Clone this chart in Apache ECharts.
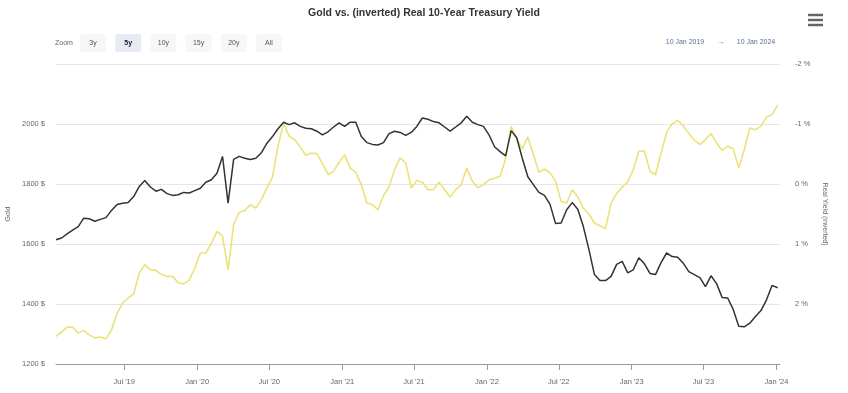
<!DOCTYPE html>
<html>
<head>
<meta charset="utf-8">
<script src="https://cdn.jsdelivr.net/npm/echarts@6/dist/echarts.min.js"></script>
<style>
html,body{margin:0;padding:0;background:#fff;}
#chart{width:848px;height:393px;}
</style>
</head>
<body>
<div id="chart"></div>
<script>
// ---- data (biweekly samples starting 10 Jan 2019) ----
const startDate = '2019-01-10';
const stepDays = 14;
const goldValues = [
1292,1306,1323,1323,1303,1312,1297,1287,1290,1283,
1314,1368,1403,1420,1434,1503,1531,1514,1512,1498,
1492,1492,1472,1467,1479,1520,1570,1570,1603,1642,
1626,1514,1664,1706,1712,1731,1720,1748,1787,1823,
1926,2003,1959,1948,1923,1896,1903,1901,1868,1831,
1842,1872,1898,1853,1839,1798,1737,1731,1714,1761,
1790,1848,1887,1870,1787,1812,1806,1781,1781,1806,
1781,1757,1781,1798,1853,1809,1787,1798,1814,1819,
1826,1883,1992,1950,1917,1957,1898,1839,1850,1837,
1809,1742,1737,1781,1757,1720,1700,1670,1661,1651,
1737,1768,1789,1808,1848,1909,1911,1842,1831,1903,
1972,2000,2012,1994,1968,1946,1931,1948,1968,1937,
1912,1926,1917,1853,1914,1987,1981,1992,2023,2031,
2064
];
const yieldValues = [
0.93,0.90,0.83,0.77,0.71,0.57,0.58,0.62,0.59,0.56,
0.44,0.34,0.32,0.31,0.21,0.04,-0.06,0.05,0.12,0.09,
0.16,0.19,0.18,0.14,0.15,0.11,0.07,-0.03,-0.07,-0.18,
-0.46,0.32,-0.41,-0.46,-0.43,-0.41,-0.43,-0.52,-0.68,-0.79,
-0.92,-1.03,-0.99,-1.02,-0.96,-0.93,-0.92,-0.88,-0.82,-0.87,
-0.95,-1.02,-0.96,-1.03,-1.03,-0.79,-0.69,-0.66,-0.65,-0.69,
-0.84,-0.88,-0.86,-0.81,-0.86,-0.96,-1.10,-1.08,-1.04,-1.02,
-0.95,-0.88,-0.95,-1.02,-1.13,-1.03,-0.99,-0.96,-0.82,-0.62,
-0.54,-0.47,-0.89,-0.77,-0.43,-0.12,0.01,0.14,0.19,0.34,
0.66,0.65,0.43,0.31,0.42,0.71,1.09,1.51,1.61,1.61,
1.54,1.34,1.29,1.48,1.43,1.23,1.33,1.49,1.51,1.31,
1.15,1.21,1.22,1.32,1.46,1.51,1.56,1.71,1.53,1.66,
1.89,1.90,2.09,2.37,2.38,2.32,2.21,2.11,1.93,1.69,
1.73
];
const tickDates = ['2019-07-01','2020-01-01','2020-07-01','2021-01-01','2021-07-01','2022-01-01','2022-07-01','2023-01-01','2023-07-01','2024-01-01'];
const tickLabels = ["Jul '19","Jan '20","Jul '20","Jan '21","Jul '21","Jan '22","Jul '22","Jan '23","Jul '23","Jan '24"];
const zoomButtons = ['3y','5y','10y','15y','20y','All'];
const rangeFrom = '10 Jan 2019';
const rangeTo = '10 Jan 2024';

// ---- build ----
const DAY = 86400000;
const t0 = Date.parse(startDate + 'T00:00:00Z');
const goldData = goldValues.map((v, i) => [t0 + i * stepDays * DAY, v]);
const yieldData = yieldValues.map((v, i) => [t0 + i * stepDays * DAY, v]);
const tickTs = tickDates.map(d => Date.parse(d + 'T00:00:00Z'));
function labelFor(v) {
  let best = 0, bd = Infinity;
  tickTs.forEach((t, i) => { const d = Math.abs(t - v); if (d < bd) { bd = d; best = i; } });
  return tickLabels[best];
}

const FONT = '"Liberation Sans", Arial, Helvetica, sans-serif';
const chart = echarts.init(document.getElementById('chart'), null, {renderer: 'canvas'});

const graphics = [];
graphics.push({type: 'text', x: 55, y: 43, style: {text: 'Zoom', font: '7px ' + FONT, fill: '#666', verticalAlign: 'middle'}});
zoomButtons.forEach((b, i) => {
  const cx = 93 + i * 35.2;
  graphics.push({type: 'rect', shape: {x: cx - 13, y: 34, width: 26, height: 18, r: 2},
    style: {fill: i === 1 ? '#e6ebf5' : '#f7f7f7'}});
  graphics.push({type: 'text', x: cx, y: 43, style: {text: b, font: (i === 1 ? 'bold ' : '') + '7px ' + FONT,
    fill: i === 1 ? '#222' : '#555', align: 'center', verticalAlign: 'middle'}});
});
graphics.push({type: 'text', x: 685, y: 42, style: {text: rangeFrom, font: '7px ' + FONT, fill: '#5a6f9c', align: 'center', verticalAlign: 'middle'}});
graphics.push({type: 'text', x: 721, y: 42, style: {text: '→', font: '7px ' + FONT, fill: '#5a6f9c', align: 'center', verticalAlign: 'middle'}});
graphics.push({type: 'text', x: 756, y: 42, style: {text: rangeTo, font: '7px ' + FONT, fill: '#5a6f9c', align: 'center', verticalAlign: 'middle'}});
[15, 20, 25].forEach(y => {
  graphics.push({type: 'rect', shape: {x: 808, y: y - 1.25, width: 15, height: 2.5}, style: {fill: '#666'}});
});

chart.setOption({
  animation: false,
  backgroundColor: '#fff',
  textStyle: {fontFamily: FONT},
  title: {
    text: 'Gold vs. (inverted) Real 10-Year Treasury Yield',
    left: 'center', top: 3,
    textStyle: {fontSize: 10.5, fontWeight: 'bold', color: '#333', fontFamily: FONT}
  },
  graphic: graphics,
  grid: {left: 56, right: 68, top: 64, bottom: 29, containLabel: false, outerBoundsMode: 'none'},
  xAxis: {
    type: 'value',
    min: Date.parse('2019-01-10T00:00:00Z'),
    max: Date.parse('2024-01-10T00:00:00Z'),
    axisLine: {show: true, onZero: false, lineStyle: {color: '#999', width: 1}},
    axisTick: {show: true, customValues: tickTs, length: 6, lineStyle: {color: '#999'}},
    axisLabel: {customValues: tickTs, formatter: labelFor, fontSize: 7.5, color: '#666', margin: 14, fontFamily: FONT},
    splitLine: {show: false}
  },
  yAxis: [
    {
      type: 'value', position: 'left', min: 1200, max: 2200, interval: 200,
      name: 'Gold', nameLocation: 'middle', nameGap: 44, nameRotate: 90,
      nameTextStyle: {fontSize: 7, color: '#666', fontFamily: FONT},
      axisLine: {show: false}, axisTick: {show: false},
      axisLabel: {formatter: v => v >= 2200 ? '' : v + ' $', fontSize: 7.5, color: '#666', margin: 11, padding: [0, 0, 8, 0], fontFamily: FONT},
      splitLine: {lineStyle: {color: '#e6e6e6', width: 1}}
    },
    {
      type: 'value', position: 'right', min: -2, max: 3, interval: 1, inverse: true,
      name: 'Real Yield (inverted)', nameLocation: 'middle', nameGap: 40, nameRotate: -90,
      nameTextStyle: {fontSize: 7, color: '#666', fontFamily: FONT},
      axisLine: {show: false}, axisTick: {show: false},
      axisLabel: {formatter: v => v >= 3 ? '' : v + ' %', fontSize: 7.5, color: '#666', margin: 15, padding: [0, 0, 8, 0], fontFamily: FONT},
      splitLine: {show: false}
    }
  ],
  series: [
    {
      name: 'Gold', type: 'line', yAxisIndex: 0, data: goldData, showSymbol: false, symbol: 'none',
      lineStyle: {color: '#ece27a', width: 1.6}, z: 2
    },
    {
      name: 'Real Yield (inverted)', type: 'line', yAxisIndex: 1, data: yieldData, showSymbol: false, symbol: 'none',
      lineStyle: {color: '#333', width: 1.5}, z: 3
    }
  ]
});
</script>
</body>
</html>
